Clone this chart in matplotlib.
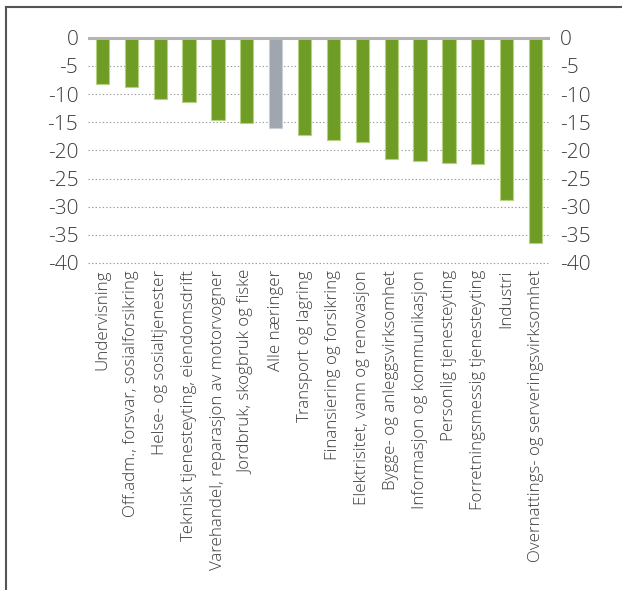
import matplotlib
matplotlib.use('Agg')
import matplotlib.pyplot as plt
from matplotlib.lines import Line2D

plt.rcParams['font.family'] = ['Open Sans', 'DejaVu Sans']

# Endring per næring (prosent)
categories = [
    'Undervisning',
    'Off.adm., forsvar, sosialforsikring',
    'Helse- og sosialtjenester',
    'Teknisk tjenesteyting, eiendomsdrift',
    'Varehandel, reparasjon av motorvogner',
    'Jordbruk, skogbruk og fiske',
    'Alle næringer',
    'Transport og lagring',
    'Finansiering og forsikring',
    'Elektrisitet, vann og renovasjon',
    'Bygge- og anleggsvirksomhet',
    'Informasjon og kommunikasjon',
    'Personlig tjenesteyting',
    'Forretningsmessig tjenesteyting',
    'Industri',
    'Overnattings- og serveringsvirksomhet',
]
values = [-8.2, -8.8, -10.9, -11.5, -14.6, -15.2, -16.1, -17.3,
          -18.1, -18.5, -21.6, -21.9, -22.3, -22.5, -28.9, -36.4]
yticks = [0, -5, -10, -15, -20, -25, -30, -35, -40]

GREEN = '#6f9c24'
GREY = '#a0a6ae'
colors = [GREY if c == 'Alle næringer' else GREEN for c in categories]
edges = ['#c9cfd6' if c == 'Alle næringer' else '#b5d184' for c in categories]

fig = plt.figure(figsize=(6.22, 5.90), dpi=100)
ax = fig.add_axes([88 / 622, 1 - 268.6 / 590, 462 / 622, 236.5 / 590])

x = list(range(len(categories)))
ax.bar(x, values, width=0.46, color=colors, edgecolor=edges, linewidth=0.8, zorder=3)

ax.set_xlim(-0.5, len(categories) - 0.5)
ax.set_ylim(-41, 1)
ax.set_yticks(yticks)
ax.set_yticklabels([str(v) for v in yticks])
for v in yticks[1:]:
    ax.axhline(v, color='#9a9a9a', linestyle=(0, (1.2, 2.0)), linewidth=0.8, zorder=1)
ax.axhline(0, color='#b4b4b4', linewidth=2.2, zorder=4)

for s in ax.spines.values():
    s.set_visible(False)

ax.tick_params(axis='y', length=0, pad=7, labelsize=15, labelcolor='#3c3c3c',
               left=True, right=True, labelleft=True, labelright=True)
ax.set_xticks(x)
ax.set_xticklabels(categories, rotation=90, fontsize=12.2, color='#3c3c3c')
ax.tick_params(axis='x', length=0, pad=1)
for lbl in ax.get_yticklabels() + ax.get_xticklabels():
    lbl.set_fontweight('light')

# ramme (topp og venstre)
fig.add_artist(Line2D([6 / 622, 1], [1 - 7 / 590, 1 - 7 / 590], color='#555555', linewidth=1.5))
fig.add_artist(Line2D([6 / 622, 6 / 622], [0, 1 - 7 / 590], color='#555555', linewidth=1.5))

fig.savefig('out.png', dpi=100)
